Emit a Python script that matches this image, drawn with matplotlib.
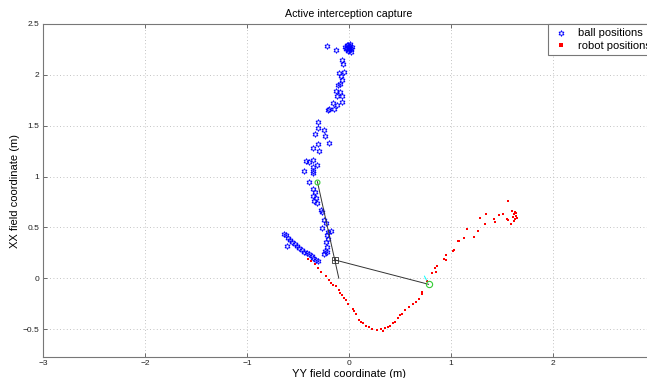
import numpy as np
import matplotlib
matplotlib.use('Agg')
import matplotlib.pyplot as plt

plt.rcParams['font.family'] = ['Liberation Sans', 'DejaVu Sans']

# ball positions (YY, XX) in metres
ball_y = [0.00, -0.02, 0.01, -0.03, 0.02, -0.01, 0.03, -0.04, 0.00, 0.01, -0.02, 0.02, -0.01, 0.00,
          -0.22, -0.13, -0.07, -0.06, -0.05, -0.10, -0.08, -0.07, -0.09, -0.11, -0.13, -0.09,
          -0.12, -0.07, -0.16, -0.12, -0.07, -0.15, -0.21, -0.20, -0.30, -0.30, -0.25, -0.33,
          -0.24, -0.20, -0.30, -0.35, -0.29, -0.42, -0.39, -0.35, -0.31, -0.35, -0.44, -0.35,
          -0.35, -0.39, -0.35, -0.33, -0.35, -0.32, -0.34, -0.31, -0.27, -0.26, -0.25, -0.23,
          -0.26, -0.21, -0.18, -0.22, -0.21, -0.23, -0.22, -0.24, -0.25, -0.22,
          -0.64, -0.62, -0.60, -0.58, -0.56, -0.61, -0.53, -0.51, -0.49, -0.46, -0.44, -0.41,
          -0.39, -0.36, -0.35, -0.32, -0.30]
ball_x = [2.27, 2.26, 2.28, 2.25, 2.25, 2.29, 2.27, 2.27, 2.24, 2.30, 2.29, 2.22, 2.23, 2.26,
          2.28, 2.24, 2.15, 2.11, 2.03, 2.02, 1.99, 1.95, 1.91, 1.90, 1.84, 1.83,
          1.79, 1.79, 1.72, 1.70, 1.73, 1.66, 1.65, 1.66, 1.54, 1.48, 1.46, 1.42,
          1.40, 1.33, 1.32, 1.28, 1.25, 1.15, 1.14, 1.16, 1.11, 1.09, 1.05, 1.05,
          1.03, 0.95, 0.88, 0.85, 0.81, 0.79, 0.76, 0.74, 0.67, 0.65, 0.57, 0.54,
          0.49, 0.45, 0.46, 0.42, 0.39, 0.36, 0.31, 0.27, 0.24, 0.26,
          0.43, 0.42, 0.40, 0.38, 0.36, 0.32, 0.34, 0.32, 0.30, 0.28, 0.26, 0.25,
          0.24, 0.22, 0.20, 0.18, 0.17]

# robot positions (YY, XX) in metres
robot_y = [-0.40, -0.37, -0.33, -0.30, -0.27, -0.23, -0.20, -0.18, -0.16, -0.13, -0.10, -0.09,
           -0.07, -0.05, -0.03, -0.01, 0.04, 0.05, 0.07, 0.10, 0.12, 0.14, 0.17, 0.20,
           0.23, 0.27, 0.31, 0.33, 0.35, 0.38, 0.40, 0.43, 0.45, 0.48, 0.50, 0.52,
           0.55, 0.59, 0.63, 0.66, 0.69, 0.72, 0.72, 0.76, 0.81, 0.85, 0.84, 0.86,
           0.93, 0.95, 0.95, 1.02, 1.03, 1.07, 1.08, 1.13, 1.16, 1.23, 1.26, 1.28,
           1.33, 1.34, 1.42, 1.43, 1.47, 1.51, 1.55, 1.56, 1.56, 1.59, 1.60, 1.61,
           1.62, 1.63, 1.64, 1.65, 1.62, 1.64, 1.63]
robot_x = [0.19, 0.17, 0.14, 0.10, 0.06, 0.02, -0.02, -0.05, -0.07, -0.08, -0.12, -0.15,
           -0.17, -0.19, -0.21, -0.25, -0.30, -0.32, -0.35, -0.41, -0.43, -0.44, -0.47, -0.48,
           -0.50, -0.51, -0.50, -0.52, -0.49, -0.48, -0.47, -0.44, -0.43, -0.39, -0.36, -0.35,
           -0.31, -0.28, -0.25, -0.23, -0.20, -0.16, -0.14, -0.03, 0.05, 0.06, 0.10, 0.12,
           0.19, 0.18, 0.23, 0.27, 0.28, 0.37, 0.37, 0.40, 0.48, 0.41, 0.46, 0.59,
           0.53, 0.63, 0.58, 0.55, 0.62, 0.63, 0.58, 0.57, 0.76, 0.53, 0.66, 0.60,
           0.63, 0.58, 0.61, 0.59, 0.56, 0.64, 0.65]

# interception geometry
ball_line_y = [-0.31, -0.10]
ball_line_x = [0.95, 0.00]
robot_line_y = [-0.14, 0.78]
robot_line_x = [0.18, -0.06]
heading_y = [0.74, 0.76]
heading_x = [0.02, -0.02]

fig = plt.figure(figsize=(6.47, 3.78), dpi=100)
ax = fig.add_axes([43/647, 21/378, 612/647, 333/378])

star = (6, 1, 0)
ax.plot(ball_y, ball_x, linestyle='none', marker=star, markersize=4.2, markerfacecolor='none',
        markeredgecolor='blue', markeredgewidth=0.6, label='ball positions')
ax.plot(robot_y, robot_x, linestyle='none', marker='s', markersize=1.6, color='red',
        markeredgewidth=0, label='robot positions')
ax.plot(ball_line_y, ball_line_x, color='#333333', linewidth=0.7)
ax.plot(robot_line_y, robot_line_x, color='#333333', linewidth=0.7)
ax.plot(heading_y, heading_x, color='cyan', linewidth=0.7)
ax.plot(robot_line_y[0], robot_line_x[0], marker='s', markersize=4.5, markerfacecolor='none',
        markeredgecolor='#333333', markeredgewidth=0.6)
ax.plot(robot_line_y[0], robot_line_x[0], marker='+', markersize=4.5, color='#333333', markeredgewidth=0.6)
ax.plot(ball_line_y[0], ball_line_x[0], marker='o', markersize=3.5, markerfacecolor='none',
        markeredgecolor='#33cc33', markeredgewidth=0.8)
ax.plot(robot_line_y[1], robot_line_x[1], marker='o', markersize=4.5, markerfacecolor='none',
        markeredgecolor='#33cc33', markeredgewidth=0.8)

ax.set_xlim(-3, 3)
ax.set_ylim(-0.775, 2.5)
ax.set_xticks([-3, -2, -1, 0, 1, 2])
ax.set_xticklabels(['\u22123', '\u22122', '\u22121', '0', '1', '2'])
ax.set_yticks([-0.5, 0, 0.5, 1, 1.5, 2, 2.5])
ax.set_yticklabels(['\u22120.5', '0', '0.5', '1', '1.5', '2', '2.5'])
ax.grid(True, linestyle=(0, (1, 3)), color='#b0b0b0', linewidth=0.6)
ax.tick_params(direction='in', labelsize=6, length=3, width=0.6, colors='#555555',
               top=True, right=True, pad=2.5)
ax.tick_params(labelcolor='#222222')
for s in ax.spines.values():
    s.set_color('#777777')
    s.set_linewidth(0.8)

ax.set_xlabel('YY field coordinate (m)', fontsize=8, labelpad=1)
ax.set_ylabel('XX field coordinate (m)', fontsize=8, labelpad=2)
ax.set_title('Active interception capture', fontsize=7.7, pad=5)

leg = ax.legend(loc='upper left', bbox_to_anchor=(548/647, 1 - 24/378),
                bbox_transform=fig.transFigure, fontsize=8, fancybox=False,
                edgecolor='#777777', framealpha=1, borderaxespad=0,
                handlelength=1.5, labelspacing=0.2, borderpad=0.4)
leg.get_frame().set_linewidth(0.8)
leg.legend_handles[1].set_markersize(2.5)

fig.savefig('out.png', dpi=100)
